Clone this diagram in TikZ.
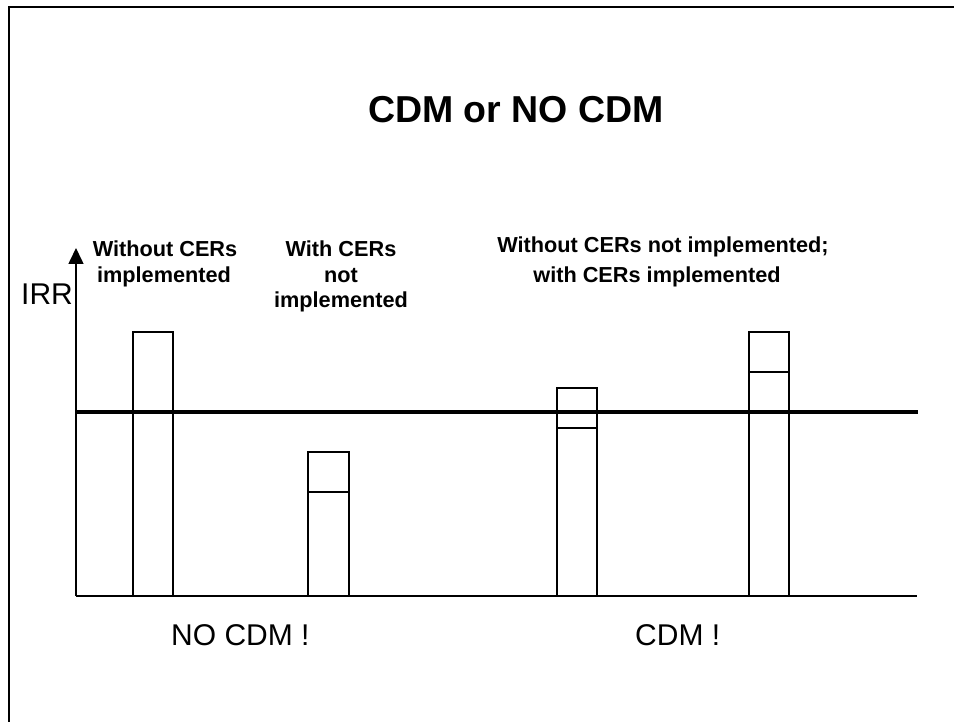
\documentclass[tikz,border=0pt]{standalone}
\usepackage{fontspec}
\setmainfont{Liberation Sans}
\usetikzlibrary{arrows.meta}
\tikzset{
  lbl/.style={inner sep=0pt, font=\fontsize{21.7}{25}\selectfont\bfseries, anchor=base},
  big/.style={inner sep=0pt, font=\fontsize{30}{34}\selectfont, anchor=base west},
  bar/.style={draw=black, line width=2pt},
}
\begin{document}
\begin{tikzpicture}[x=1pt,y=-1pt]
\useasboundingbox (0,0) rectangle (954,722);
% frame
\draw[line width=2.8pt] (9,740) -- (9,7) -- (970,7);
% title
\node[inner sep=0pt, font=\fontsize{37.5}{40}\selectfont\bfseries, anchor=base] (title) at (516,123) {CDM or NO CDM};
% axes
\coordinate (o) at (76,596);
\coordinate (ytop) at (76,248);
\coordinate (xend) at (917,596);
\draw[line width=1.6pt, -{Triangle[width=15pt,length=16pt]}] (o) -- (ytop);
\draw[line width=2pt] (o) -- (xend);
% threshold line
\coordinate (t1) at (76,412);
\coordinate (t2) at (918,412);
% bars
\draw[bar] (133,332) rectangle (173,596);
\draw[bar] (308,452) rectangle (349,596);
\draw[bar] (308,492) -- (349,492);
\draw[bar] (557,388) rectangle (597,596);
\draw[bar] (557,428) -- (597,428);
\draw[bar] (749,332) rectangle (789,596);
\draw[bar] (749,372) -- (789,372);
\draw[line width=3.2pt] (t1) -- (t2);
% labels
\node[lbl] (a1) at (165,257) {Without CERs};
\node[lbl] (a2) at (164,283) {implemented};
\node[lbl] (b1) at (341,257) {With CERs};
\node[lbl] (b2) at (341,283) {not};
\node[lbl] (b3) at (341,308) {implemented};
\node[lbl] (c1) at (663,253) {Without CERs not implemented;};
\node[lbl] (c2) at (657,283) {with CERs implemented};
\node[big] (irr) at (21,305) {IRR};
\node[big] (nocdm) at (171,645) {NO CDM !};
\node[big] (cdm) at (635,645) {CDM !};
\end{tikzpicture}
\end{document}
